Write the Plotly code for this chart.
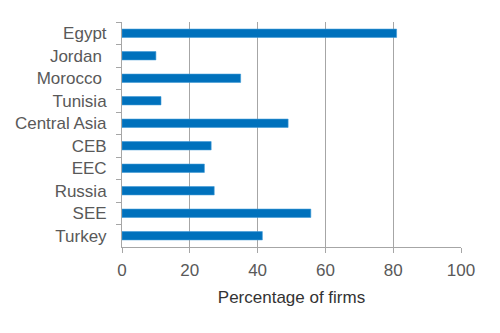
import plotly.graph_objects as go

categories = ["Egypt", "Jordan\u00a0", "Morocco\u00a0", "Tunisia", "Central Asia", "CEB", "EEC", "Russia", "SEE", "Turkey"]
values = [81.0, 10.0, 35.0, 11.5, 49.0, 26.3, 24.3, 27.2, 55.7, 41.4]
x_ticks = [0, 20, 40, 60, 80, 100]

FONT = "Liberation Sans, Arial, sans-serif"

fig = go.Figure(go.Bar(
    y=categories, x=values, orientation="h",
    marker=dict(color="#0071BC", line=dict(color="#3E9AD6", width=0.6)),
    width=0.37,
))

fig.update_layout(
    width=500, height=333,
    margin=dict(l=122, r=39, t=22, b=86),
    paper_bgcolor="white", plot_bgcolor="white",
    showlegend=False,
    bargap=0.63,
    font=dict(family=FONT, color="#595959", size=17),
    xaxis=dict(
        range=[0, 100], tickvals=x_ticks, ticktext=[str(v) for v in x_ticks],
        showgrid=True, gridcolor="#A6A6A6", gridwidth=1,
        zeroline=False, showline=True, linecolor="#A6A6A6", linewidth=1,
        ticks="outside", ticklen=5, tickcolor="#A6A6A6",
        tickfont=dict(size=17, color="#595959"),
        ticklabelstandoff=3,
        title=dict(text="Percentage of firms", font=dict(size=17, color="#333333"), standoff=11),
        fixedrange=True,
    ),
    yaxis=dict(
        autorange="reversed", categoryorder="array", categoryarray=categories,
        showgrid=False, zeroline=False, showline=True, linecolor="#A6A6A6", linewidth=1,
        ticks="outside", ticklen=5, tickcolor="#A6A6A6", tickson="boundaries",
        tickfont=dict(size=17, color="#595959"),
        ticklabelstandoff=11,
        fixedrange=True,
    ),
)

fig.write_html("out.html")
